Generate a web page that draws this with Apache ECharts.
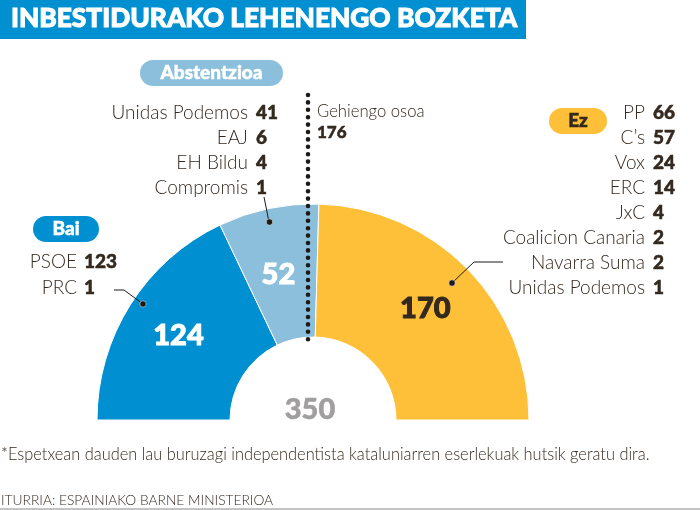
<!DOCTYPE html>
<html>
<head>
<meta charset="utf-8">
<title>Inbestidurako lehenengo bozketa</title>
<style>
html,body{margin:0;padding:0;background:#fff;}
#chartBox{width:700px;height:510px;}
</style>
<script src="https://cdn.jsdelivr.net/npm/echarts@6/dist/echarts.min.js"></script>
</head>
<body>
<div id="chartBox"></div>
<script>
// datuak
var blocks = ['Bai', 'Abstentzioa', 'Ez'];
var blockValues = [124, 52, 170];
var blockColors = ['#0090d2', '#8bbfdb', '#fdc038'];
var baiNames = ['PSOE', 'PRC'];
var baiValues = [123, 1];
var absNames = ['Unidas Podemos', 'EAJ', 'EH Bildu', 'Compromis'];
var absValues = [41, 6, 4, 1];
var ezNames = ['PP', 'C\u2019s', 'Vox', 'ERC', 'JxC', 'Coalicion Canaria', 'Navarra Suma', 'Unidas Podemos'];
var ezValues = [66, 57, 24, 14, 4, 2, 2, 1];
var totalSeats = 350;
var majority = 176;

var FONT = 'Lato, "Open Sans", sans-serif';
var INK = '#33291f';

function lightText(x, y, str, align, size, squeeze){
    return {type: 'text', z: 10, x: x, y: y, scaleX: squeeze || 1, style: {x: 0, y: 0, text: str, align: align, verticalAlign: 'middle',
        font: '300 ' + (size || 19) + 'px ' + FONT, fill: INK}};
}
function boldText(x, y, str, size, color, align){
    var fill = color || INK;
    return {type: 'text', z: 10, style: {x: x, y: y, text: String(str), align: align || 'left', verticalAlign: 'middle',
        font: '900 ' + (size || 19) + 'px ' + FONT, fill: fill, stroke: fill, lineWidth: 0.5}};
}
function pill(x, y, w, h, color, str, textColor){
    return [
        {type: 'rect', z: 5, shape: {x: x, y: y, width: w, height: h, r: h / 2}, style: {fill: color}},
        boldText(x + w / 2, y + h / 2, str, 19, textColor, 'center')
    ];
}
function leader(points, dot){
    return [
        {type: 'polyline', z: 8, shape: {points: points}, style: {stroke: '#1d1a18', lineWidth: 1, fill: null}},
        {type: 'circle', z: 8, shape: {cx: dot[0], cy: dot[1], r: 3.2}, style: {fill: '#1d1a18', stroke: 'rgba(255,255,255,0.5)', lineWidth: 1}}
    ];
}
function list(names, values, xName, xValue, yStart, step){
    var out = [];
    for(var i = 0; i < names.length; i++){
        out.push(lightText(xName, yStart + i * step, names[i], 'right'));
        out.push(boldText(xValue, yStart + i * step, values[i]));
    }
    return out;
}

function getGraphic(){
    var title = boldText(11, 19, 'INBESTIDURAKO LEHENENGO BOZKETA', 26.3, '#fff');
    title.style.lineWidth = 1;
    var g = [
        {type: 'rect', z: 5, shape: {x: 0, y: 0, width: 526, height: 39}, style: {fill: '#0090d2'}},
        title,
        {type: 'line', z: 9, shape: {x1: 308, y1: 95, x2: 308, y2: 346},
            style: {stroke: '#1d1a18', lineWidth: 4.6, lineCap: 'round', lineDash: [0, 7.4]}},
        lightText(317, 112, 'Gehiengo osoa', 'left', 17, 0.98),
        boldText(317, 133, majority, 17),
        boldText(310, 410, totalSeats, 29, '#a09e9e', 'center'),
        lightText(1, 455, '*Espetxean dauden lau buruzagi independentista kataluniarren eserlekuak hutsik geratu dira.', 'left', 17, 0.964),
        lightText(1, 500, 'ITURRIA: ESPAINIAKO BARNE MINISTERIOA', 'left', 14.5, 0.95),
        {type: 'line', z: 5, shape: {x1: 0, y1: 509, x2: 700, y2: 509}, style: {stroke: '#888', lineWidth: 1}}
    ];
    g = g.concat(pill(140, 60, 143, 26, blockColors[1], blocks[1], '#fff'));
    g = g.concat(pill(33, 216, 66, 26, blockColors[0], blocks[0], '#fff'));
    g = g.concat(pill(549, 108, 58, 26, blockColors[2], blocks[2], INK));
    g = g.concat(list(absNames, absValues, 248, 256, 113, 25));
    g = g.concat(list(baiNames, baiValues, 77, 84, 262, 26));
    g = g.concat(list(ezNames, ezValues, 645, 653, 113, 25));
    g = g.concat(leader([[264, 197], [269, 222]], [269.5, 222]));
    g = g.concat(leader([[114, 290], [124, 290], [143, 304]], [143, 304]));
    g = g.concat(leader([[503, 262], [474, 262], [452, 283]], [452, 283]));
    return g;
}

function getParams(){
    var labelShift = [[-5.5, -3], [-3, 4], [3, -5]];
    return {
        animation: false,
        graphic: getGraphic(),
        series: [{
            type: 'pie',
            center: [313, 420],
            radius: [83, 216],
            startAngle: 180,
            endAngle: 360,
            clockwise: true,
            silent: true,
            z: 2,
            itemStyle: {borderColor: '#fff', borderWidth: 1},
            label: {
                position: 'inside',
                formatter: '{c}',
                fontFamily: FONT,
                fontWeight: 900,
                fontSize: 29,
                textBorderWidth: 1
            },
            labelLine: {show: false},
            labelLayout: function(params){
                return {dx: labelShift[params.dataIndex][0], dy: labelShift[params.dataIndex][1]};
            },
            data: blocks.map(function(name, i){
                var labelColor = i == 2 ? INK : '#fff';
                return {
                    name: name,
                    value: blockValues[i],
                    itemStyle: {color: blockColors[i]},
                    label: {color: labelColor, textBorderColor: labelColor}
                };
            })
        }]
    };
}

var chart = echarts.init(document.getElementById('chartBox'), null, {renderer: 'canvas'});
chart.setOption(getParams());
</script>
</body>
</html>
